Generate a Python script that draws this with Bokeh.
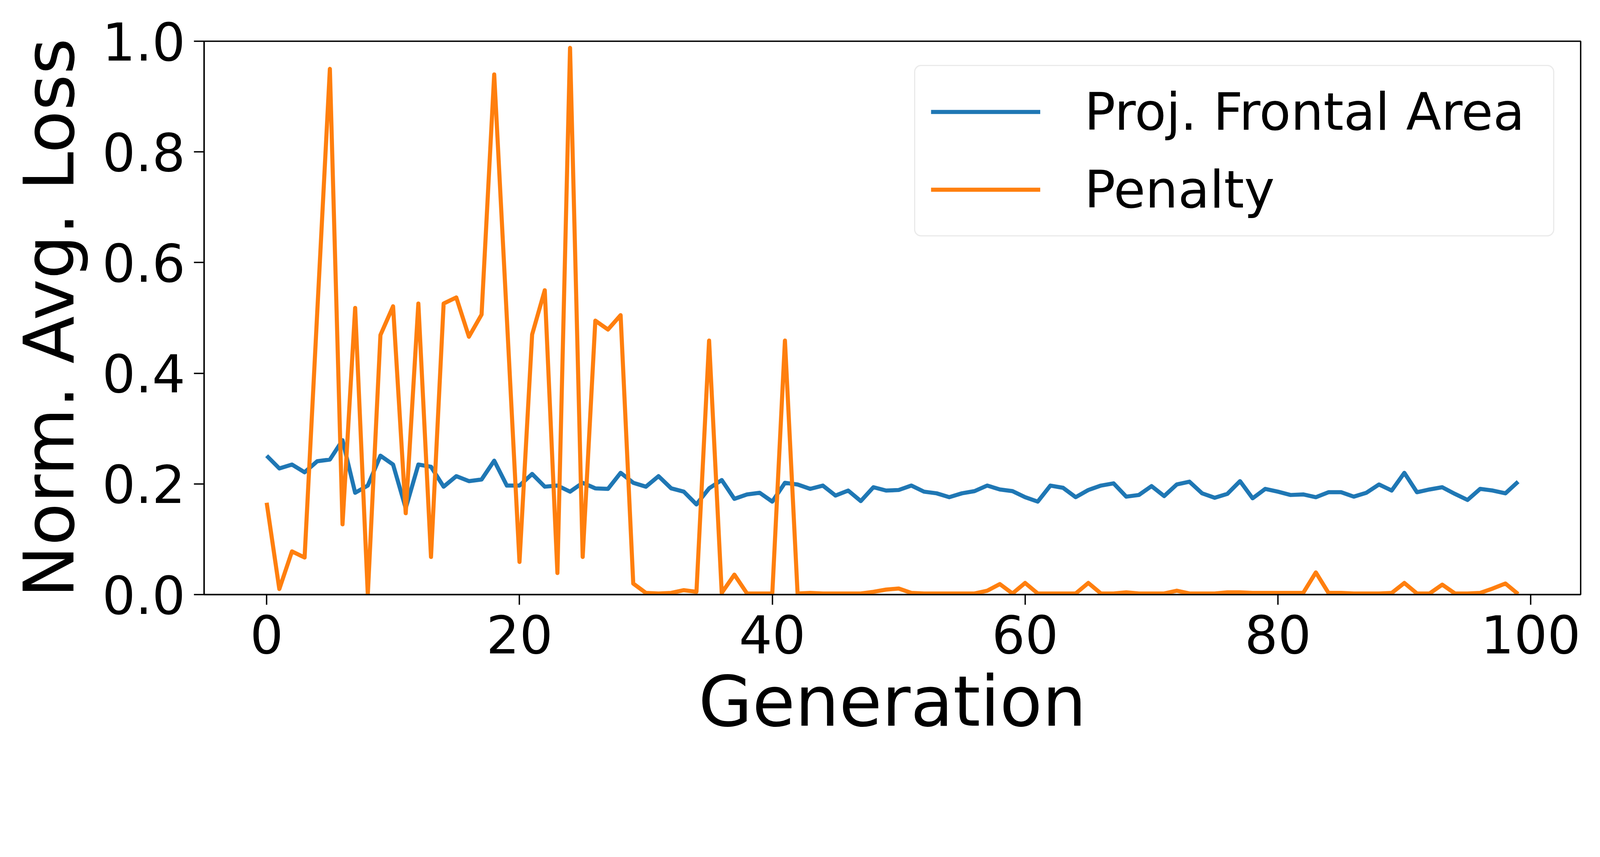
from bokeh.plotting import figure
from bokeh.models import (FixedTicker, PrintfTickFormatter, Range1d, Legend, LegendItem,
                          ColumnDataSource)
from bokeh.embed import file_html
from bokeh.resources import INLINE

generations = list(range(100))

frontal_area = [
    0.251, 0.228, 0.235, 0.221, 0.241, 0.244, 0.279, 0.184, 0.197, 0.251,
    0.235, 0.156, 0.235, 0.231, 0.195, 0.214, 0.205, 0.208, 0.242, 0.197,
    0.197, 0.218, 0.195, 0.197, 0.186, 0.202, 0.192, 0.191, 0.220, 0.202,
    0.195, 0.214, 0.192, 0.186, 0.163, 0.192, 0.207, 0.173, 0.181, 0.184,
    0.168, 0.202, 0.199, 0.191, 0.197, 0.179, 0.188, 0.169, 0.194, 0.188,
    0.189, 0.197, 0.186, 0.183, 0.176, 0.183, 0.187, 0.197, 0.190, 0.187,
    0.176, 0.168, 0.197, 0.193, 0.176, 0.189, 0.197, 0.201, 0.177, 0.180,
    0.196, 0.178, 0.199, 0.204, 0.183, 0.175, 0.182, 0.205, 0.174, 0.191,
    0.186, 0.180, 0.181, 0.176, 0.185, 0.185, 0.177, 0.184, 0.199, 0.188,
    0.220, 0.185, 0.190, 0.194, 0.182, 0.171, 0.191, 0.188, 0.183, 0.204,
]

penalty = [
    0.166, 0.010, 0.078, 0.067, 0.510, 0.950, 0.127, 0.518, 0.000, 0.469,
    0.521, 0.147, 0.526, 0.068, 0.526, 0.537, 0.466, 0.506, 0.940, 0.500,
    0.059, 0.470, 0.550, 0.039, 0.988, 0.068, 0.495, 0.479, 0.505, 0.020,
    0.003, 0.002, 0.003, 0.008, 0.005, 0.459, 0.003, 0.036, 0.002, 0.002,
    0.002, 0.459, 0.002, 0.003, 0.002, 0.002, 0.002, 0.002, 0.005, 0.009,
    0.011, 0.003, 0.002, 0.002, 0.002, 0.002, 0.002, 0.007, 0.019, 0.002,
    0.021, 0.002, 0.002, 0.002, 0.002, 0.021, 0.002, 0.002, 0.004, 0.002,
    0.002, 0.002, 0.007, 0.002, 0.002, 0.002, 0.004, 0.004, 0.003, 0.003,
    0.003, 0.003, 0.003, 0.040, 0.003, 0.003, 0.002, 0.002, 0.002, 0.003,
    0.021, 0.002, 0.002, 0.018, 0.002, 0.002, 0.003, 0.011, 0.020, 0.001,
]

series_labels = ["Proj. Frontal Area", "Penalty"]
x_ticks = [0, 20, 40, 60, 80, 100]
y_ticks = [0.0, 0.2, 0.4, 0.6, 0.8, 1.0]
x_label = "Generation"
y_label = "Norm. Avg. Loss"

FONT = "DejaVu Sans"
W, H = 4080, 1944

p = figure(width=W, height=H, output_backend="svg", toolbar_location=None,
           x_range=Range1d(-4.95, 103.95), y_range=Range1d(0.0, 1.0),
           min_border_left=522, min_border_right=34, min_border_top=105,
           min_border_bottom=423)
p.background_fill_color = "white"
p.border_fill_color = "white"
p.outline_line_color = "black"
p.outline_line_width = 3.5
p.xgrid.visible = False
p.ygrid.visible = False

src = ColumnDataSource(dict(x=generations, fa=frontal_area, pen=penalty))
r1 = p.line("x", "fa", source=src, line_color="#1f77b4", line_width=10.5, line_join="round")
r2 = p.line("x", "pen", source=src, line_color="#ff7f0e", line_width=10.5, line_join="round")

for ax in (p.xaxis[0], p.yaxis[0]):
    ax.axis_line_width = 3.5
    ax.axis_line_color = "black"
    ax.major_tick_line_width = 3.5
    ax.major_tick_line_color = "black"
    ax.major_tick_out = 26
    ax.major_tick_in = 0
    ax.minor_tick_line_color = None
    ax.major_label_text_font = FONT
    ax.major_label_text_font_size = "134px"
    ax.major_label_text_color = "black"
    ax.axis_label_text_font = FONT
    ax.axis_label_text_font_size = "178px"
    ax.axis_label_text_font_style = "normal"
    ax.axis_label_text_color = "black"

p.xaxis.ticker = FixedTicker(ticks=x_ticks)
p.yaxis.ticker = FixedTicker(ticks=y_ticks)
p.yaxis.formatter = PrintfTickFormatter(format="%.1f")
p.xaxis.axis_label = x_label
p.yaxis.axis_label = y_label
p.xaxis.major_label_standoff = 26
p.yaxis.major_label_standoff = 22
p.xaxis.axis_label_standoff = 17
p.yaxis.axis_label_standoff = 28

legend = Legend(items=[LegendItem(label=series_labels[0], renderers=[r1]),
                       LegendItem(label=series_labels[1], renderers=[r2])],
                location=(1818, 916), margin=0, padding=40, spacing=45,
                glyph_width=280, glyph_height=152, label_height=152,
                label_width=1160, label_standoff=113,
                label_text_font=FONT, label_text_font_size="132px",
                label_text_color="black",
                border_line_color="#d6d6d6", border_line_width=3.5,
                background_fill_color="white", background_fill_alpha=0.8)
if "border_radius" in Legend.properties():
    legend.border_radius = 18
p.add_layout(legend)

open("out.html", "w").write(file_html(p, INLINE))
